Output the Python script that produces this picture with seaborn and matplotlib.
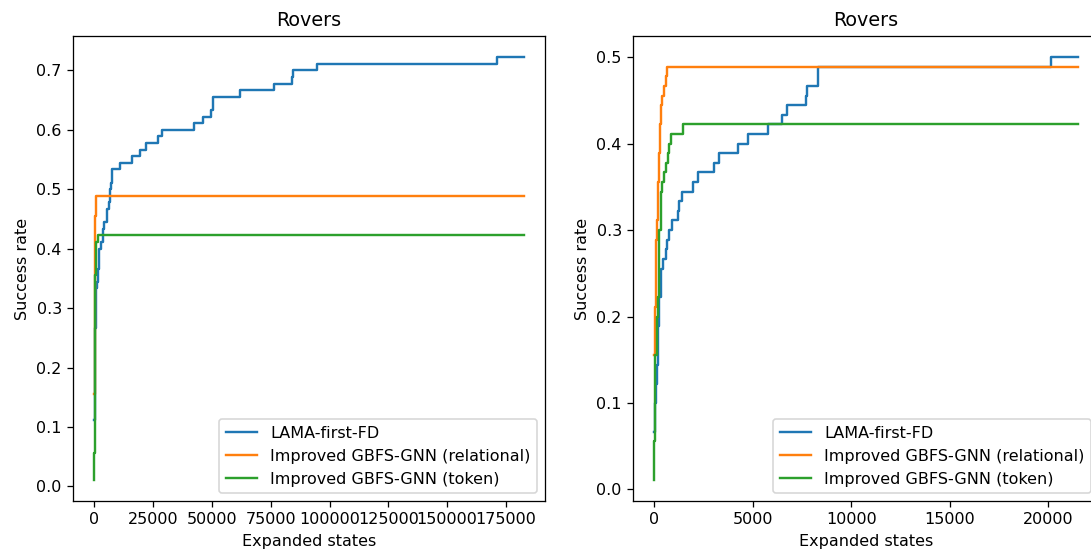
import numpy as np
import pandas as pd
import matplotlib
matplotlib.use("Agg")
import matplotlib.pyplot as plt
import seaborn as sns

N_PROBLEMS = 90
labels = ["LAMA-first-FD", "Improved GBFS-GNN (relational)", "Improved GBFS-GNN (token)"]
colors = ["#1f77b4", "#ff7f0e", "#2ca02c"]

# ---- left panel: LAMA (expanded states at which solved count changes, solved count)
lama_left_x = [0, 60, 120, 180, 250, 350, 450, 600, 800, 1000, 1350, 2050, 2760, 3480,
               4180, 5190, 6310, 6700, 7020, 7440, 10850, 15800, 19350, 21900, 27150,
               28850, 42300, 46000, 49400, 50300, 50600, 61900, 76350, 83900, 84600,
               94500, 171300]
lama_left_n = [10, 12, 15, 18, 21, 24, 26, 28, 30, 31, 33, 36, 37, 39,
               40, 42, 43, 45, 46, 48, 49, 50, 51, 52, 53,
               54, 55, 56, 57, 58, 59, 60, 61, 62, 63,
               64, 65]
left_end = 182500

# ---- right panel: LAMA
lama_right_x = [0, 40, 80, 132, 213, 264, 350, 467, 589, 670, 771, 923, 1228, 1278, 1431,
                1989, 2212, 3039, 3293, 4272, 4779, 5794, 6489, 6727, 7706, 7773, 8300,
                8331, 20120]
lama_right_n = [6, 9, 11, 13, 17, 20, 23, 24, 25, 26, 27, 28, 29, 30, 31,
                32, 33, 34, 35, 36, 37, 38, 39, 40, 41, 42, 43,
                44, 45]
right_end = 21500

# ---- GNN series (shared by both panels)
rel_x = [0, 40, 80, 132, 183, 249, 300, 350, 416, 518, 589, 670]
rel_n = [14, 19, 26, 28, 32, 35, 38, 40, 41, 42, 43, 44]
tok_x = [0, 10, 25, 50, 120, 213, 240, 264, 335, 350, 416, 518, 604, 689, 756, 841, 1483]
tok_n = [1, 5, 10, 14, 18, 20, 24, 27, 30, 31, 32, 33, 34, 35, 36, 37, 38]


def series(xs, ns, end):
    x = list(xs) + [end]
    y = [n / N_PROBLEMS for n in ns] + [ns[-1] / N_PROBLEMS]
    return pd.DataFrame({"x": x, "y": y})


DPI = 115
fig = plt.figure(figsize=(1091 / DPI, 552 / DPI), dpi=DPI)
ax1 = fig.add_axes([73 / 1091, 51 / 552, 472 / 1091, 465 / 552])
ax2 = fig.add_axes([633 / 1091, 51 / 552, 466 / 1091, 465 / 552])

panels = [
    (ax1, [(lama_left_x, lama_left_n), (rel_x, rel_n), (tok_x, tok_n)], left_end),
    (ax2, [(lama_right_x, lama_right_n), (rel_x, rel_n), (tok_x, tok_n)], right_end),
]

for ax, data, end in panels:
    for (xs, ns), lab, col in zip(data, labels, colors):
        df = series(xs, ns, end)
        sns.lineplot(data=df, x="x", y="y", ax=ax, color=col, label=lab,
                     drawstyle="steps-post", estimator=None, linewidth=1.5)
    ax.set_title("Rovers")
    ax.set_xlabel("Expanded states")
    ax.set_ylabel("Success rate")
    ax.legend(loc="lower right")

fig.savefig("out.png", dpi=DPI)
